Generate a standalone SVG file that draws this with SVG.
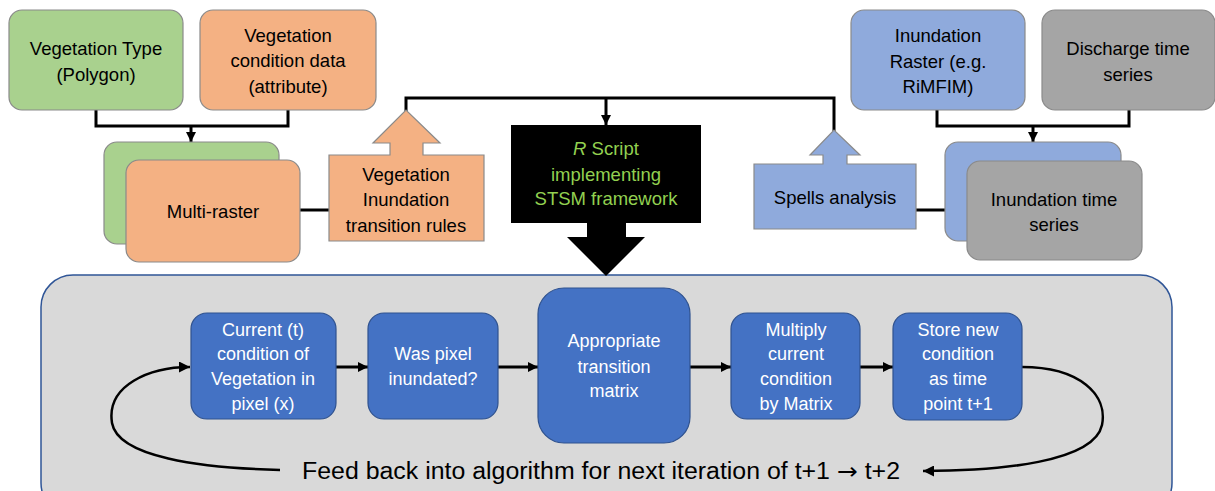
<svg xmlns="http://www.w3.org/2000/svg" width="1215" height="491" viewBox="0 0 1215 491">
<defs>
<style>
.t{font-family:"Liberation Sans",Arial,sans-serif;font-size:18.5px;fill:#000;text-anchor:middle;dominant-baseline:central}
.w{fill:#fff;font-size:18px}
.g{fill:#92d050}
.green{fill:#a9d18e;stroke:#8a8a8a;stroke-width:1.2}
.orange{fill:#f4b183;stroke:#8a8a8a;stroke-width:1.2}
.blue{fill:#8faadc;stroke:#8a8a8a;stroke-width:1.2}
.gray{fill:#a5a5a5;stroke:#8a8a8a;stroke-width:1.2}
.inner{fill:#4472c4;stroke:#2f528f;stroke-width:1.2}
.ln{fill:none;stroke:#000;stroke-width:3}
.ln2{fill:none;stroke:#000;stroke-width:2.5}
</style>
<marker id="ah" viewBox="0 0 10 10" refX="10" refY="5" markerWidth="10" markerHeight="10" markerUnits="userSpaceOnUse" orient="auto">
<path d="M0,0 L10,5 L0,10 Z" fill="#000"/>
</marker>
<marker id="ah2" viewBox="0 0 10 10" refX="10" refY="5" markerWidth="11" markerHeight="11" markerUnits="userSpaceOnUse" orient="auto">
<path d="M0,0 L10,5 L0,10 Z" fill="#000"/>
</marker>
</defs>
<rect width="1215" height="491" fill="#fff"/>

<g id="container">
<rect x="41" y="275" width="1131" height="240" rx="32" fill="#d9d9d9" stroke="#2f5597" stroke-width="1.5"/>
</g>

<g id="connectors">
<path class="ln" d="M96,110 V126 H288 V110"/>
<path class="ln" d="M191,126 V142" marker-end="url(#ah)"/>
<path class="ln" d="M937,110 V126 H1129 V110"/>
<path class="ln" d="M1033,126 V142" marker-end="url(#ah)"/>
<path class="ln" d="M406,111 V98 H834 V131"/>
<path class="ln" d="M606,98 V125" marker-end="url(#ah)"/>
<path class="ln" d="M300,210 H329"/>
<path class="ln" d="M916,210 H967"/>
<path class="ln" d="M336,367 H368" marker-end="url(#ah)"/>
<path class="ln" d="M498,367 H538" marker-end="url(#ah)"/>
<path class="ln" d="M690,367 H731" marker-end="url(#ah)"/>
<path class="ln" d="M860,367 H893" marker-end="url(#ah)"/>
<path class="ln2" d="M1022,367 C1080,367 1108,395 1102,425 C1094,462 1000,471 923,471" marker-end="url(#ah2)"/>
<path class="ln2" d="M280,470 C200,468 118,457 112,423 C106,385 150,367 190,367" marker-end="url(#ah2)"/>
</g>

<g id="veg-type">
<rect class="green" x="9" y="10" width="174" height="100" rx="13"/>
<text class="t" x="96" y="48">Vegetation Type</text>
<text class="t" x="96" y="74">(Polygon)</text>
</g>

<g id="veg-condition">
<rect class="orange" x="200" y="10" width="176" height="100" rx="13"/>
<text class="t" x="288" y="35">Vegetation</text>
<text class="t" x="288" y="60">condition data</text>
<text class="t" x="288" y="86">(attribute)</text>
</g>

<g id="multi-raster">
<rect class="green" x="104" y="142" width="175" height="102" rx="13"/>
<rect class="orange" x="126" y="160" width="174" height="102" rx="13"/>
<text class="t" x="213" y="211">Multi-raster</text>
</g>

<g id="veg-rules">
<path class="orange" d="M329,155 H390 V143 H373 L406,110 L440,143 H423 V155 H484 V241 H329 Z"/>
<text class="t" x="406" y="174">Vegetation</text>
<text class="t" x="406" y="199">Inundation</text>
<text class="t" x="406" y="225">transition rules</text>
</g>

<g id="r-script">
<path d="M511,125 H701 V223 H626 V237 H645 L606,276 L567,237 H587 V223 H511 Z" fill="#000"/>
<text class="t g" x="606" y="148"><tspan font-style="italic">R</tspan> Script</text>
<text class="t g" x="606" y="174">implementing</text>
<text class="t g" x="606" y="198">STSM framework</text>
</g>

<g id="spells">
<path class="blue" d="M754,164 H823 V155 H810 L834,130 L860,155 H847 V164 H916 V229 H754 Z"/>
<text class="t" x="835" y="197">Spells analysis</text>
</g>

<g id="inundation-raster">
<rect class="blue" x="851" y="10" width="174" height="100" rx="13"/>
<text class="t" x="938" y="35">Inundation</text>
<text class="t" x="938" y="61">Raster (e.g.</text>
<text class="t" x="938" y="86">RiMFIM)</text>
</g>

<g id="discharge">
<rect class="gray" x="1042" y="10" width="173" height="100" rx="13"/>
<text class="t" x="1128" y="48">Discharge time</text>
<text class="t" x="1128" y="74">series</text>
</g>

<g id="inundation-ts">
<rect class="blue" x="945" y="142" width="176" height="99" rx="13"/>
<rect class="gray" x="967" y="161" width="175" height="99" rx="13"/>
<text class="t" x="1054" y="199">Inundation time</text>
<text class="t" x="1054" y="224">series</text>
</g>

<g id="current">
<rect class="inner" x="191" y="313" width="145" height="106" rx="16"/>
<text class="t w" x="263" y="330">Current (t)</text>
<text class="t w" x="263" y="354">condition of</text>
<text class="t w" x="263" y="379">Vegetation in</text>
<text class="t w" x="263" y="404">pixel (x)</text>
</g>

<g id="was-inundated">
<rect class="inner" x="368" y="313" width="130" height="106" rx="16"/>
<text class="t w" x="433" y="354">Was pixel</text>
<text class="t w" x="433" y="379">inundated?</text>
</g>

<g id="transition-matrix">
<rect class="inner" x="538" y="288" width="152" height="155" rx="26"/>
<text class="t w" x="614" y="341">Appropriate</text>
<text class="t w" x="614" y="367">transition</text>
<text class="t w" x="614" y="391">matrix</text>
</g>

<g id="multiply">
<rect class="inner" x="731" y="313" width="129" height="106" rx="16"/>
<text class="t w" x="796" y="330">Multiply</text>
<text class="t w" x="796" y="354">current</text>
<text class="t w" x="796" y="379">condition</text>
<text class="t w" x="796" y="404">by Matrix</text>
</g>

<g id="store">
<rect class="inner" x="893" y="313" width="129" height="107" rx="16"/>
<text class="t w" x="958" y="330">Store new</text>
<text class="t w" x="958" y="354">condition</text>
<text class="t w" x="958" y="379">as time</text>
<text class="t w" x="958" y="404">point t+1</text>
</g>

<g id="feedback-label">
<text class="t" x="601" y="471" textLength="598" lengthAdjust="spacingAndGlyphs" style="font-size:23px">Feed back into algorithm for next iteration of t+1 <tspan style="font-family:'DejaVu Sans',sans-serif">→</tspan> t+2</text>
</g>
</svg>
